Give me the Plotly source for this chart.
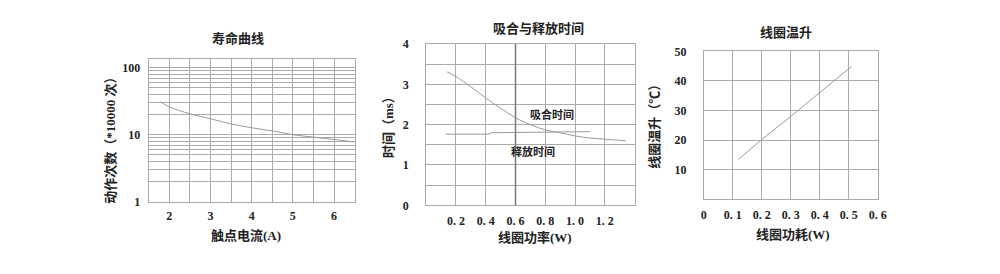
import plotly.graph_objects as go

# ---------------- data ----------------
# Chart 1: life curve (log y)
life_current = [1.78, 2.0, 2.5, 3.0, 3.5, 4.0, 4.5, 5.0, 5.5, 6.0, 6.48]
life_ops = [31, 26.2, 20.5, 17.3, 14.5, 12.7, 11.4, 10.0, 9.2, 8.5, 7.8]
life_xticks = [2, 3, 4, 5, 6]
life_yticks = [1, 10, 100]

# Chart 2: pull-in / release time
pull_power = [0.14, 0.2, 0.3, 0.4, 0.5, 0.6, 0.7, 0.8, 0.9, 1.0, 1.1, 1.2, 1.34]
pull_time = [3.31, 3.19, 2.94, 2.66, 2.41, 2.17, 2.0, 1.87, 1.80, 1.72, 1.67, 1.64, 1.60]
rel_power = [0.13, 0.42, 0.44, 1.1]
rel_time = [1.765, 1.765, 1.80, 1.827]
time_xticks = [0.2, 0.4, 0.6, 0.8, 1.0, 1.2]
time_xlabels = ["0. 2", "0. 4", "0. 6", "0. 8", "1. 0", "1. 2"]
time_yticks = [0, 1, 2, 3, 4]
emph_x = 0.6

# Chart 3: coil temperature rise
temp_power = [0.12, 0.2, 0.3, 0.4, 0.51]
temp_rise = [13.5, 20.2, 28.0, 36.0, 44.9]
temp_xticks = [0, 0.1, 0.2, 0.3, 0.4, 0.5, 0.6]
temp_xlabels = ["0", "0. 1", "0. 2", "0. 3", "0. 4", "0. 5", "0. 6"]
temp_yticks = [10, 20, 30, 40, 50]

# ---------------- style ----------------
FONT = "Liberation Serif, Noto Sans CJK SC, serif"
GRID = "#ababab"
CURVE = "#9a9a9a"
TXT = "#222222"
tickfont = dict(family=FONT, size=12, color=TXT, weight="bold")

fig = go.Figure()
fig.add_trace(go.Scatter(x=life_current, y=life_ops, mode="lines", line_shape="spline",
                         line=dict(color=CURVE, width=1), xaxis="x", yaxis="y",
                         showlegend=False, hoverinfo="skip"))
fig.add_trace(go.Scatter(x=pull_power, y=pull_time, mode="lines", line_shape="spline",
                         line=dict(color=CURVE, width=1), xaxis="x2", yaxis="y2",
                         showlegend=False, hoverinfo="skip"))
fig.add_trace(go.Scatter(x=rel_power, y=rel_time, mode="lines",
                         line=dict(color=CURVE, width=1), xaxis="x2", yaxis="y2",
                         showlegend=False, hoverinfo="skip"))
fig.add_trace(go.Scatter(x=temp_power, y=temp_rise, mode="lines",
                         line=dict(color=CURVE, width=1), xaxis="x3", yaxis="y3",
                         showlegend=False, hoverinfo="skip"))

common = dict(showline=True, mirror=True, linecolor=GRID, linewidth=1,
              showgrid=True, gridcolor=GRID, gridwidth=1, zeroline=False,
              ticks="", tickfont=tickfont, fixedrange=True)

fig.update_layout(
    width=1000, height=274, margin=dict(l=0, r=0, t=0, b=0),
    paper_bgcolor="white", plot_bgcolor="white",
    xaxis=dict(domain=[0.1473, 0.356], anchor="y", range=[1.5, 6.5],
               tickvals=life_xticks, ticklabelstandoff=3,
               minor=dict(dtick=0.5, showgrid=True, gridcolor=GRID, gridwidth=1), **common),
    yaxis=dict(domain=[0.2507, 0.8004], anchor="x", type="log", range=[0, 2.13],
               tickvals=life_yticks, ticklabelstandoff=5,
               minor=dict(dtick="D1", showgrid=True, gridcolor=GRID, gridwidth=1), **common),
    xaxis2=dict(domain=[0.4283, 0.6393], anchor="y2", range=[0, 1.4],
                tickvals=time_xticks, ticktext=time_xlabels, ticklabelstandoff=4,
                minor=dict(dtick=0.2, showgrid=True, gridcolor=GRID), **common),
    yaxis2=dict(domain=[0.2372, 0.8577], anchor="x2", range=[0, 4],
                tickvals=time_yticks, ticklabelstandoff=14,
                minor=dict(dtick=0.5, showgrid=True, gridcolor=GRID), **common),
    xaxis3=dict(domain=[0.7093, 0.8853], anchor="y3", range=[0, 0.6],
                tickvals=temp_xticks, ticktext=temp_xlabels, ticklabelstandoff=4,
                **common),
    yaxis3=dict(domain=[0.2602, 0.8296], anchor="x3", range=[0, 50],
                tickvals=temp_yticks, ticklabelstandoff=14, **common),
)

fig.add_shape(type="line", xref="x2", yref="y2 domain", x0=emph_x, x1=emph_x, y0=0, y1=1,
              line=dict(color="#7a7a7a", width=1.5))

title_font = dict(family=FONT, size=13, color=TXT, weight="bold")
small_font = dict(family=FONT, size=11, color=TXT, weight="bold")

def ann(text, x, y, font=title_font, angle=0, xref="paper", yref="paper"):
    fig.add_annotation(text=text, x=x, y=y, xref=xref, yref=yref, showarrow=False,
                       font=font, textangle=angle, xanchor="center", yanchor="middle")

def px(x, y):
    return x / 1000, 1 - y / 274

ann("寿命曲线", *px(237.7, 33.5))
ann("吸合与释放时间", *px(541.7, 23))
ann("线圈温升", *px(793, 26.5))
ann("触点电流(A)", *px(245.7, 240.5))
ann("动作次数（*10000 次）", *px(108, 137), angle=-90)
ann("线圈功率(W)", *px(538, 242.5))
ann("时间（ms）", *px(390, 123), angle=-90)
ann("线圈功耗(W)", *px(800, 240))
ann("线圈温升（℃）", *px(660, 123), angle=-90)
ann("吸合时间", 0.844, 2.25, font=small_font, xref="x2", yref="y2")
ann("释放时间", 0.72, 1.33, font=small_font, xref="x2", yref="y2")

fig.write_html("out.html")
